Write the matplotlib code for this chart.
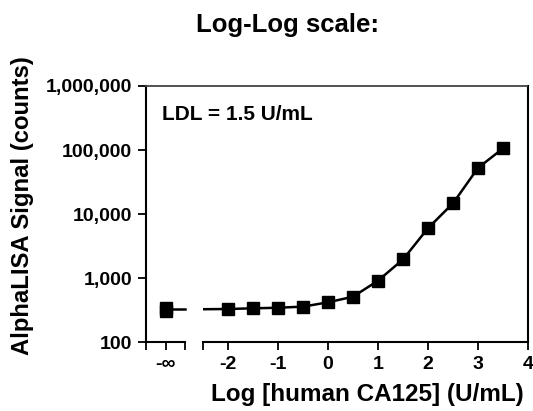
import numpy as np
import matplotlib
matplotlib.use('Agg')
import matplotlib.pyplot as plt
from matplotlib.lines import Line2D

plt.rcParams['font.family'] = ['Liberation Sans', 'DejaVu Sans']
plt.rcParams['font.weight'] = 'bold'

# data
blank_vals = [345, 305]          # replicates at -inf (no analyte)
log_conc = [-2, -1.5, -1, -0.5, 0, 0.5, 1, 1.5, 2, 2.5, 3, 3.5]
signal = [328, 336, 343, 357, 417, 510, 908, 1950, 6000, 14700, 52400, 106000]
err_low = [30, 0, 0, 0, 0, 0, 0, 0, 0, 0, 0, 0]
bottom_plateau = 325
y_ticks = [100, 1000, 10000, 100000, 1000000]
y_labels = ['100', '1,000', '10,000', '100,000', '1,000,000']
x_ticks = [-2.5, -2, -1, 0, 1, 2, 3, 4]
x_labels = ['', '-2', '-1', '0', '1', '2', '3', '4']

W, H = 533, 411
fig = plt.figure(figsize=(W / 100, H / 100), dpi=100)

top, bot = 86, 342
ax1 = fig.add_axes([146 / W, (H - bot) / H, 39 / W, (bot - top) / H])
ax2 = fig.add_axes([203 / W, (H - bot) / H, 325 / W, (bot - top) / H])

for ax in (ax1, ax2):
    ax.set_yscale('log')
    ax.set_ylim(100, 1000000)
    ax.minorticks_off()
    ax.tick_params(direction='out', length=6, width=1.3, labelsize=14, pad=4)
    for s in ax.spines.values():
        s.set_linewidth(1.5)
    ax.spines['top'].set_visible(False)
    ax.patch.set_visible(False)

# left segment (-inf)
ax1.set_xlim(-1, 1)
ax1.plot([0, 0], blank_vals, 's', color='black', ms=8, clip_on=False)
ax1.plot([0, 1], [bottom_plateau, bottom_plateau], color='black', lw=1.8, clip_on=False)
ax1.set_xticks([-1, 0, 1])
ax1.set_xticklabels(['', '-\u221e', ''])
ax1.spines['right'].set_visible(False)
ax1.set_yticks(y_ticks)
ax1.set_yticklabels(y_labels)

# main segment
ax2.set_xlim(-2.5, 4)
ax2.plot([-2.5] + log_conc, [bottom_plateau] + signal, '-', color='black', lw=1.8)
ax2.errorbar(log_conc, signal, yerr=[err_low, [0] * len(err_low)], fmt='s',
             color='black', ms=8, capsize=0, elinewidth=1.2, clip_on=False)
ax2.set_xticks(x_ticks)
ax2.set_xticklabels(x_labels)
ax2.spines['left'].set_visible(False)
ax2.tick_params(axis='y', left=False, labelleft=False)

for ax in (ax1, ax2):
    for lab in ax.get_xticklabels() + ax.get_yticklabels():
        lab.set_fontweight('bold')

# continuous top frame line
fig.add_artist(Line2D([146 / W, 527 / W], [(H - top) / H] * 2, color='#444444', lw=1.3))

fig.text(287 / W, (H - 32) / H, 'Log-Log scale:', ha='center', va='baseline',
         fontsize=18.5, fontweight='bold')
fig.text(367 / W, (H - 401) / H, 'Log [human CA125] (U/mL)', ha='center', va='baseline',
         fontsize=17.5, fontweight='bold')
fig.text(23 / W, (H - 206) / H, 'AlphaLISA Signal (counts)', ha='center', va='center',
         rotation=90, fontsize=17.2, fontweight='bold')
fig.text(162 / W, (H - 120) / H, 'LDL = 1.5 U/mL', ha='left', va='baseline',
         fontsize=15, fontweight='bold')

fig.savefig('out.png', dpi=100)
